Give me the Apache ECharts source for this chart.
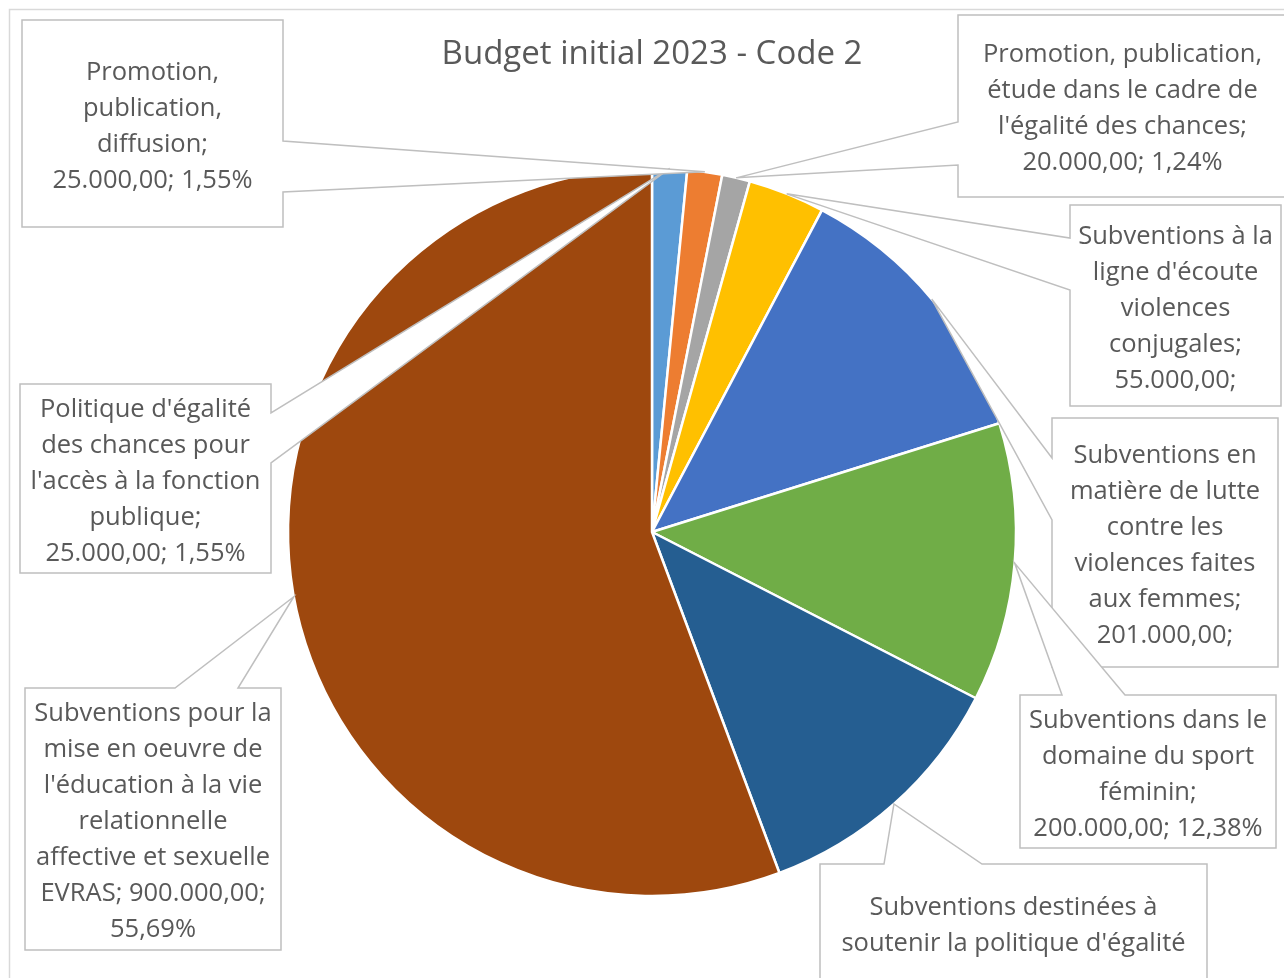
<!DOCTYPE html>
<html>
<head>
<meta charset="utf-8">
<script src="https://cdn.jsdelivr.net/npm/echarts@6/dist/echarts.min.js"></script>
<style>
  html, body { margin: 0; padding: 0; background: #ffffff; }
  #chart { width: 1284px; height: 978px; }
</style>
</head>
<body>
<div id="chart"></div>
<script>
// Budget lines, in clockwise order from 12 o'clock
const chartTitle = 'Budget initial 2023 - Code 2';
const categories = [
  "Politique d'égalité des chances pour l'accès à la fonction publique",
  'Promotion, publication, diffusion',
  "Promotion, publication, étude dans le cadre de l'égalité des chances",
  "Subventions à la ligne d'écoute violences conjugales",
  'Subventions en matière de lutte contre les violences faites aux femmes',
  'Subventions dans le domaine du sport féminin',
  "Subventions destinées à soutenir la politique d'égalité",
  "Subventions pour la mise en oeuvre de l'éducation à la vie relationnelle affective et sexuelle EVRAS"
];
const values = [25000, 25000, 20000, 55000, 201000, 200000, 190000, 900000];
// whether each data label carries the amount and share after the name
const labelWithFigures = [true, true, true, true, true, true, false, true];

const sliceColors = ['#5B9BD5', '#ED7D31', '#A5A5A5', '#FFC000', '#4472C4', '#70AD47', '#255E91', '#9E480E'];
const textColor = '#595959';
const fontFamily = '"Open Sans"';
const fontSize = 25.5;
const lineHeight = 36;
const boxPadding = 7;

// Callout boxes: [x0, y0, x1, y1], the side carrying the pointer, the pointer base span on that side,
// whether the figures start on their own line, and how many lines the box has room for
const callouts = [
  { box: [20, 384, 271, 573],    side: 'right', base: [413, 463], figuresOwnLine: true },
  { box: [22, 20, 283, 227],     side: 'right', base: [141, 192], figuresOwnLine: true },
  { box: [958, 15, 1287, 197],   side: 'left',  base: [122, 165], figuresOwnLine: true },
  { box: [1070, 205, 1281, 406], side: 'left',  base: [238, 290], figuresOwnLine: true, maxLines: 5 },
  { box: [1052, 418, 1278, 667], side: 'left',  base: [458, 520], figuresOwnLine: true, maxLines: 6 },
  { box: [1020, 695, 1276, 848], side: 'top',   base: [1062, 1125], figuresOwnLine: true },
  { box: [820, 864, 1207, 982],  side: 'top',   base: [884, 982] },
  { box: [25, 688, 281, 950],    side: 'top',   base: [175, 238] }
];

const total = values.reduce((a, b) => a + b, 0);

function formatAmount(v) {
  const intPart = Math.floor(v).toString().replace(/\B(?=(\d{3})+(?!\d))/g, '.');
  const dec = Math.round((v - Math.floor(v)) * 100).toString().padStart(2, '0');
  return intPart + ',' + dec;
}
function formatShare(v) {
  return (v / total * 100).toFixed(2).replace('.', ',') + '%';
}

// Word wrap on spaces only, so amounts and shares stay whole
const measureCtx = document.createElement('canvas').getContext('2d');
function wrapLines(text, font, maxWidth) {
  measureCtx.font = font;
  const words = text.split(' ');
  const lines = [];
  let cur = '';
  words.forEach(w => {
    const test = cur ? cur + ' ' + w : w;
    if (cur && measureCtx.measureText(test).width > maxWidth) {
      lines.push(cur);
      cur = w;
    } else {
      cur = test;
    }
  });
  if (cur) lines.push(cur);
  return lines;
}

function labelLines(i, c, font, maxWidth) {
  if (!labelWithFigures[i]) return wrapLines(categories[i], font, maxWidth);
  const figures = formatAmount(values[i]) + '; ' + formatShare(values[i]);
  if (c.figuresOwnLine) {
    return wrapLines(categories[i] + ';', font, maxWidth).concat(wrapLines(figures, font, maxWidth));
  }
  return wrapLines(categories[i] + '; ' + figures, font, maxWidth);
}

const chart = echarts.init(document.getElementById('chart'), null, { renderer: 'canvas' });

chart.setOption({
  animation: false,
  backgroundColor: '#ffffff',
  title: {
    text: chartTitle,
    left: 647,
    top: 33,
    textAlign: 'center',
    textStyle: { fontFamily: fontFamily, fontSize: 33, fontWeight: 'normal', color: textColor }
  },
  series: [{
    type: 'pie',
    center: [652, 532],
    radius: 364,
    startAngle: 90,
    clockwise: true,
    silent: true,
    label: { show: false },
    labelLine: { show: false },
    emphasis: { disabled: true },
    itemStyle: { borderColor: '#ffffff', borderWidth: 2.5 },
    data: categories.map((name, i) => ({
      name: name,
      value: values[i],
      itemStyle: { color: sliceColors[i] }
    }))
  }]
});

// Slice geometry as laid out by the pie series
function sliceLayout(i) {
  try {
    const data = chart.getModel().getSeriesByIndex(0).getData();
    const L = data.getItemLayout(i);
    if (L && isFinite(L.startAngle)) return L;
  } catch (e) { /* fall through */ }
  let start = -Math.PI / 2;
  for (let k = 0; k < i; k++) start += values[k] / total * Math.PI * 2;
  return { cx: 652, cy: 532, r: 364, startAngle: start, endAngle: start + values[i] / total * Math.PI * 2 };
}

function calloutPoints(c, tip) {
  const [x0, y0, x1, y1] = c.box;
  const [a, b] = c.base;
  const pts = [[x0, y0]];
  if (c.side === 'top') pts.push([a, y0], tip, [b, y0]);
  pts.push([x1, y0]);
  if (c.side === 'right') pts.push([x1, a], tip, [x1, b]);
  pts.push([x1, y1]);
  if (c.side === 'bottom') pts.push([b, y1], tip, [a, y1]);
  pts.push([x0, y1]);
  if (c.side === 'left') pts.push([x0, b], tip, [x0, a]);
  return pts;
}

const graphics = [{
  type: 'rect',
  z: 0,
  silent: true,
  shape: { x: 9.5, y: 9.5, width: 1300, height: 1000 },
  style: { fill: 'none', stroke: '#D9D9D9', lineWidth: 1.5 }
}];

const font = fontSize + 'px ' + fontFamily;

callouts.forEach((c, i) => {
  const L = sliceLayout(i);
  const mid = (L.startAngle + L.endAngle) / 2;
  const tip = [L.cx + L.r * Math.cos(mid), L.cy + L.r * Math.sin(mid)];
  graphics.push({
    type: 'polygon',
    z: 10,
    silent: true,
    shape: { points: calloutPoints(c, tip) },
    style: { fill: '#ffffff', stroke: '#BFBFBF', lineWidth: 1.5 }
  });
  const [x0, y0, x1, y1] = c.box;
  let lines = labelLines(i, c, font, x1 - x0 - 2 * boxPadding);
  if (c.maxLines) lines = lines.slice(0, c.maxLines);
  graphics.push({
    type: 'text',
    z: 20,
    silent: true,
    style: {
      text: lines.join('\n'),
      x: (x0 + x1) / 2,
      y: (y0 + y1) / 2 + 3,
      align: 'center',
      verticalAlign: 'middle',
      font: font,
      lineHeight: lineHeight,
      fill: textColor
    }
  });
});

chart.setOption({ graphic: graphics });
</script>
</body>
</html>
